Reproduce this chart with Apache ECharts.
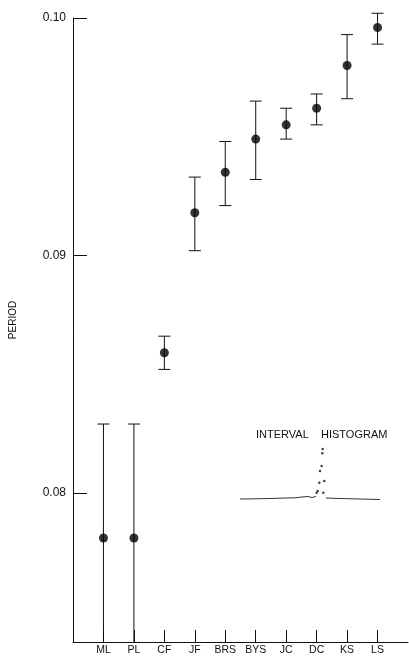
<!DOCTYPE html>
<html>
<head>
<meta charset="utf-8">
<script src="https://cdn.jsdelivr.net/npm/echarts@6/dist/echarts.min.js"></script>
<style>
  html, body { margin: 0; padding: 0; background: #fff; }
  #chart { width: 409px; height: 656px; }
</style>
</head>
<body>
<div id="chart"></div>
<script>
// sites along the x axis
const sites = ['ML', 'PL', 'CF', 'JF', 'BRS', 'BYS', 'JC', 'DC', 'KS', 'LS'];
// mean period and the ends of each error bar
const period     = [0.0781, 0.0781, 0.0859, 0.0918, 0.0935, 0.0949, 0.0955, 0.0962, 0.0980, 0.0996];
const periodLow  = [0.0733, 0.0733, 0.0852, 0.0902, 0.0921, 0.0932, 0.0949, 0.0955, 0.0966, 0.0989];
const periodHigh = [0.0829, 0.0829, 0.0866, 0.0933, 0.0948, 0.0965, 0.0962, 0.0968, 0.0993, 0.1002];
const yTicks = [0.08, 0.09, 0.10];

// inset: interval histogram (baseline trace and the dots of the peak)
const histLeft  = [[0, 1], [15, 1.2], [30, 1.5], [45, 2], [55, 2.2], [62, 3], [68, 3.5], [72, 2.5], [76, 3.5]];
const histRight = [[86, 2], [100, 1.5], [120, 1], [140, 0.5]];
const histPeak  = [[77.7, 9], [76.7, 7.3], [83.3, 7.3], [84.3, 19], [79.3, 17.3], [80, 29], [81.7, 34], [82.3, 46.7], [82.7, 51]];

const Y_MIN = 0.07372;
const Y_MAX = 0.100;
const FONT = 'Liberation Sans, Arial, sans-serif';
const INK = '#111';

const chart = echarts.init(document.getElementById('chart'));

const option = {
  backgroundColor: '#fff',
  animation: false,
  textStyle: { fontFamily: FONT },
  title: {
    text: 'INTERVAL    HISTOGRAM',
    left: 251,
    top: 424,
    textStyle: { fontSize: 11, fontWeight: 'normal', color: INK, fontFamily: FONT }
  },
  grid: [
    { left: 71, right: 1, top: 18, bottom: 14 },
    { left: 240, width: 140, top: 440, height: 60 }
  ],
  xAxis: [
    {
      type: 'value',
      gridIndex: 0,
      min: 0,
      max: 11,
      splitLine: { show: false },
      axisLine: { lineStyle: { color: INK, width: 1 } },
      axisTick: { inside: true, length: 12, customValues: sites.map((s, i) => i + 1), lineStyle: { color: INK } },
      axisLabel: {
        customValues: sites.map((s, i) => i + 1),
        formatter: v => sites[v - 1],
        color: INK,
        fontSize: 10.5,
        margin: 3
      }
    },
    { type: 'value', gridIndex: 1, min: 0, max: 140, show: false }
  ],
  yAxis: [
    {
      type: 'value',
      gridIndex: 0,
      min: Y_MIN,
      max: Y_MAX,
      name: 'PERIOD',
      nameLocation: 'middle',
      nameRotate: 90,
      nameGap: 55,
      nameTextStyle: { fontSize: 10, color: INK, padding: [0, 0, 0, 20] },
      splitLine: { show: false },
      axisLine: { show: true, lineStyle: { color: INK, width: 1 } },
      axisTick: { inside: true, length: 14, customValues: yTicks, lineStyle: { color: INK } },
      axisLabel: {
        customValues: yTicks,
        formatter: v => v.toFixed(2),
        color: INK,
        fontSize: 12,
        margin: 7
      }
    },
    { type: 'value', gridIndex: 1, min: 0, max: 60, show: false }
  ],
  series: [
    {
      type: 'custom',
      xAxisIndex: 0,
      yAxisIndex: 0,
      clip: false,
      data: sites.map((s, i) => [i + 1, periodLow[i], periodHigh[i]]),
      renderItem: function (params, api) {
        const x = api.value(0);
        const lo = api.value(1);
        const hi = api.value(2);
        const top = api.coord([x, hi]);
        const bot = api.coord([x, Math.max(lo, Y_MIN)]);
        const half = 6;
        const style = { stroke: INK, lineWidth: 1 };
        const children = [
          { type: 'line', shape: { x1: top[0], y1: top[1], x2: bot[0], y2: bot[1] }, style },
          { type: 'line', shape: { x1: top[0] - half, y1: top[1], x2: top[0] + half, y2: top[1] }, style }
        ];
        if (lo >= Y_MIN) {
          children.push({ type: 'line', shape: { x1: bot[0] - half, y1: bot[1], x2: bot[0] + half, y2: bot[1] }, style });
        }
        return { type: 'group', children };
      },
      z: 2
    },
    {
      type: 'scatter',
      xAxisIndex: 0,
      yAxisIndex: 0,
      data: sites.map((s, i) => [i + 1, period[i]]),
      symbol: 'circle',
      symbolSize: 9,
      itemStyle: { color: '#000' },
      z: 3
    },
    {
      type: 'line',
      xAxisIndex: 1,
      yAxisIndex: 1,
      data: histLeft,
      showSymbol: false,
      lineStyle: { color: '#333', width: 1 }
    },
    {
      type: 'line',
      xAxisIndex: 1,
      yAxisIndex: 1,
      data: histRight,
      showSymbol: false,
      lineStyle: { color: '#333', width: 1 }
    },
    {
      type: 'scatter',
      xAxisIndex: 1,
      yAxisIndex: 1,
      data: histPeak,
      symbolSize: 2.5,
      itemStyle: { color: '#111' }
    }
  ]
};

chart.setOption(option);
</script>
</body>
</html>
